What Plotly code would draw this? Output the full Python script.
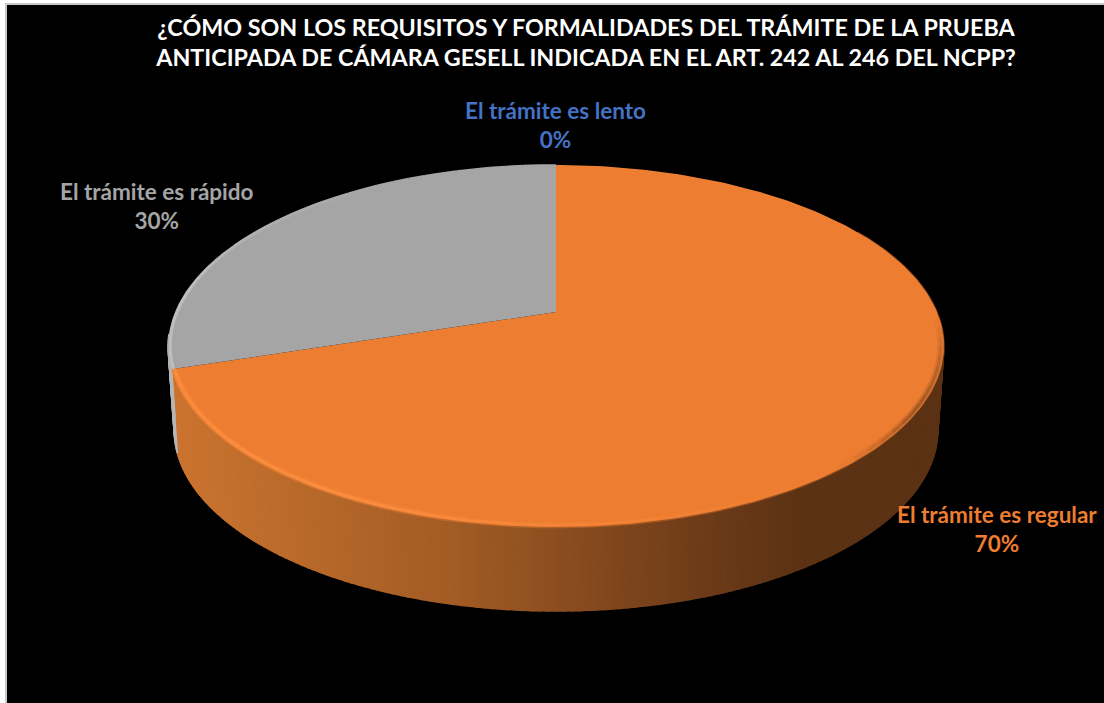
import numpy as np
import plotly.graph_objects as go

# ---- data ----
title_lines = [
    "¿CÓMO SON LOS REQUISITOS Y FORMALIDADES DEL TRÁMITE DE LA PRUEBA",
    "ANTICIPADA DE CÁMARA GESELL INDICADA EN EL ART. 242 AL 246 DEL NCPP?",
]
categories = ["El trámite es lento", "El trámite es regular", "El trámite es rápido"]
values = [0, 70, 30]

# ---- styling ----
colors = ["#4472C4", "#ED7D31", "#A5A5A5"]
label_xy = [(555, 125), (997, 529), (157, 206)]
FONT = "Lato, Carlito, Calibri, sans-serif"
W, H = 1104, 703
L, T = 7, 5

# perspective projection of the pie disc (axis units are picture pixels)
CX, K = 556.0, 0.188
def project(theta_deg, a, b, apex, r=1.0):
    t = np.radians(theta_deg)
    u, v = r * np.sin(t), -r * np.cos(t)
    d = 1 - K * v
    return CX + a * u / d, apex + b * v / d

TOP = dict(a=381.0, b=174.6, apex=312.0)
BOT = dict(a=375.0, b=174.6, apex=396.0)

def hexrgb(c):
    return [int(c[i:i + 2], 16) for i in (1, 3, 5)]

def mix(stops_pos, stops_col, p, alpha=1.0):
    rgb = [np.interp(p, stops_pos, [hexrgb(c)[i] for c in stops_col]) for i in range(3)]
    return "rgba(%d,%d,%d,%.2f)" % (*(int(round(x)) for x in rgb), alpha)

fig = go.Figure()

total = sum(values)
edges = np.cumsum([0] + values) / total * 360.0

# side wall of each slice
side_pos = [170, 300, 450, 560, 700, 800, 945]
side_col = {
    "#ED7D31": ["#CC7430", "#B96A2A", "#A35C25", "#8C4E20", "#6E3C19", "#5C3214", "#5C3214"],
    "#A5A5A5": ["#B4B6B8"] * 7,
}
for i, cat in enumerate(categories):
    if colors[i] not in side_col or values[i] == 0:
        continue
    a0, a1 = edges[i], edges[i + 1]
    steps = np.arange(a0, a1, 1.0).tolist() + [a1]
    for s0, s1 in zip(steps[:-1], steps[1:]):
        # only the front of the wall can be seen
        if not (60 <= s0 <= 262):
            continue
        x0, y0 = project(s0, **TOP)
        x1, y1 = project(s1, **TOP)
        x2, y2 = project(s1, **BOT)
        x3, y3 = project(s0, **BOT)
        c = mix(side_pos, side_col[colors[i]], (x0 + x3) / 2)
        fig.add_trace(go.Scatter(
            x=[x0, x1, x2, x3, x0], y=[y0, y1, y2, y3, y0], mode="lines",
            fill="toself", fillcolor=c, line=dict(color=c, width=1.5),
            hoverinfo="skip", showlegend=False,
        ))

# top face of each slice
for i, cat in enumerate(categories):
    th = np.linspace(edges[i], edges[i + 1], 240)
    xs, ys = project(th, **TOP)
    fig.add_trace(go.Scatter(
        x=[CX] + xs.tolist() + [CX], y=[TOP["apex"]] + ys.tolist() + [TOP["apex"]],
        mode="lines", fill="toself", fillcolor=colors[i],
        line=dict(color=colors[i], width=0), name=cat, showlegend=False,
        hoverinfo="skip",
    ))

# bevel along the rim: soft wide layer, then a tight one
rim_pos = [92, 104, 122, 140, 170, 200, 252]
rim_layers = {
    "#ED7D31": [
        (rim_pos, ["#ED7D31", "#B8642A", "#9A5322", "#ED7D31", "#ED7D31", "#F98A3B", "#F98A3B"], 0.992, 7, 0.35, 92),
        (rim_pos, ["#ED7D31", "#B8642A", "#9A5322", "#ED7D31", "#F28236", "#FC8E3F", "#FC8E3F"], 0.992, 3, 0.85, 92),
    ],
    "#A5A5A5": [
        ([252, 275, 300, 330, 360], ["#BDBFC2", "#BDBFC2", "#B0B0B0", "#A5A5A5", "#A5A5A5"], 0.995, 3, 1.0, 252),
    ],
}
for i, cat in enumerate(categories):
    if colors[i] not in rim_layers or values[i] == 0:
        continue
    for pos, cols, r, w, alpha, start in rim_layers[colors[i]]:
        a0, a1 = edges[i], edges[i + 1]
        steps = np.arange(max(a0, start), a1, 3.0).tolist() + [a1]
        for s0, s1 in zip(steps[:-1], steps[1:]):
            th = np.linspace(s0, s1, 4)
            xs, ys = project(th, r=r, **TOP)
            fig.add_trace(go.Scatter(
                x=xs, y=ys, mode="lines",
                line=dict(color=mix(pos, cols, (s0 + s1) / 2, alpha), width=w),
                hoverinfo="skip", showlegend=False,
            ))

# data labels
pcts = ["%d%%" % round(v * 100 / total) for v in values]
for cat, pct, col, (lx, ly) in zip(categories, pcts, colors, label_xy):
    fig.add_annotation(
        x=lx, y=ly, xref="x", yref="y", text="<b>%s<br>%s</b>" % (cat, pct),
        showarrow=False, align="center",
        font=dict(family=FONT, size=22.5, color=col),
    )

fig.update_layout(
    width=W, height=H, autosize=False,
    margin=dict(l=L, r=0, t=T, b=0, pad=0),
    paper_bgcolor="#FFFFFF", plot_bgcolor="#000000",
    showlegend=False,
    title=dict(
        text="<b>%s</b>" % "<br>".join(title_lines),
        x=586 / W, xanchor="center", y=1 - 36 / H, yanchor="top",
        font=dict(family=FONT, size=23.3, color="#FFFFFF"),
    ),
    xaxis=dict(range=[L, W], visible=True, showgrid=False, zeroline=False, showticklabels=False,
               ticks="", fixedrange=True, showline=True, side="top", linecolor="#C9C9C9", linewidth=2),
    yaxis=dict(range=[H, T], visible=True, showgrid=False, zeroline=False, showticklabels=False,
               ticks="", fixedrange=True, showline=True, side="left", linecolor="#C9C9C9", linewidth=2),
)

fig.write_html(
    "out.html",
    config={"displayModeBar": False},
    post_script="document.body.style.margin='0';document.body.style.overflow='hidden';",
)
